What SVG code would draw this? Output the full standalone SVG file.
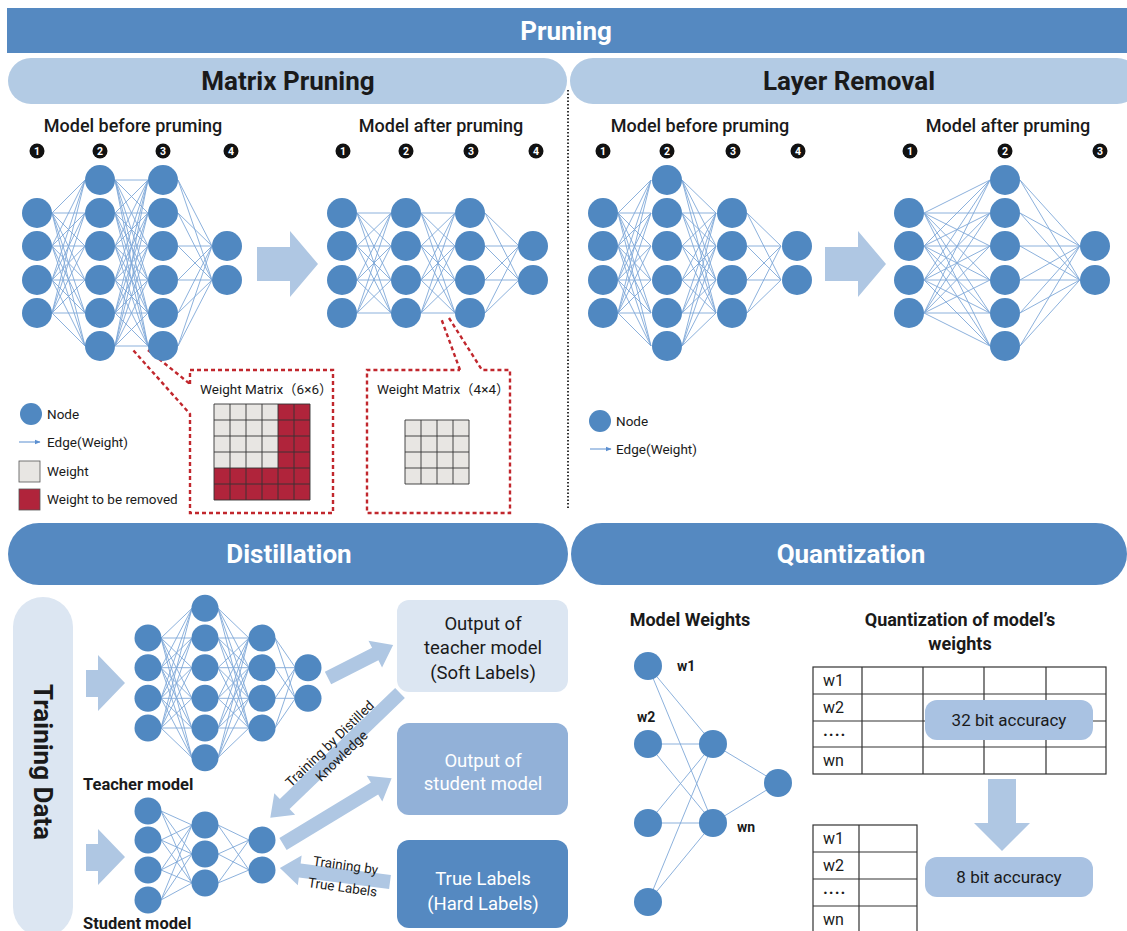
<svg xmlns="http://www.w3.org/2000/svg" xmlns:xlink="http://www.w3.org/1999/xlink" width="1127" height="931" viewBox="0 0 1127 931">
<style>
.t{font-family:Roboto,'Liberation Sans',sans-serif;fill:#1a1a1a}
.w{fill:#fff}
.h{font-size:26px;font-weight:700}
.m{font-size:18px;font-weight:500}
.s{font-size:13.5px}
.c{text-anchor:middle}
.n{fill:#5088c1}
.e{fill:none;stroke:#7fa8d8;stroke-width:0.9;vector-effect:non-scaling-stroke}
.rd{fill:none;stroke:#c1272d;stroke-width:2.4;stroke-dasharray:4 3}
.ar{fill:#afc7e3}
.bd{fill:#111}
.bt{font-family:Roboto,'Liberation Sans',sans-serif;fill:#fff;font-size:10.5px;font-weight:700;text-anchor:middle}
.gl{fill:none;stroke:#333;stroke-width:0.9}
.tb{fill:none;stroke:#333;stroke-width:1.2}
.bx{font-size:18.5px}
.q{font-size:16px}
</style>
<defs>
<marker id="ah" viewBox="0 0 10 10" refX="9" refY="5" markerWidth="6" markerHeight="6" orient="auto"><path d="M0,1L10,5L0,9Z" fill="#5b8fd0"/></marker>
<g id="c4" class="n"><circle cx="0" cy="213" r="15"/><circle cx="0" cy="246" r="15"/><circle cx="0" cy="280" r="15"/><circle cx="0" cy="313" r="15"/></g>
<g id="c6" class="n"><circle cx="0" cy="180" r="15"/><circle cx="0" cy="213" r="15"/><circle cx="0" cy="246" r="15"/><circle cx="0" cy="280" r="15"/><circle cx="0" cy="313" r="15"/><circle cx="0" cy="346" r="15"/></g>
<g id="c2" class="n"><circle cx="0" cy="246" r="15"/><circle cx="0" cy="280" r="15"/></g>
<path id="b46" class="e" d="M0,213L33,180M0,213L33,213M0,213L33,246M0,213L33,280M0,213L33,313M0,213L33,346M0,246L33,180M0,246L33,213M0,246L33,246M0,246L33,280M0,246L33,313M0,246L33,346M0,280L33,180M0,280L33,213M0,280L33,246M0,280L33,280M0,280L33,313M0,280L33,346M0,313L33,180M0,313L33,213M0,313L33,246M0,313L33,280M0,313L33,313M0,313L33,346"/>
<path id="b66" class="e" d="M0,180L33,180M0,180L33,213M0,180L33,246M0,180L33,280M0,180L33,313M0,180L33,346M0,213L33,180M0,213L33,213M0,213L33,246M0,213L33,280M0,213L33,313M0,213L33,346M0,246L33,180M0,246L33,213M0,246L33,246M0,246L33,280M0,246L33,313M0,246L33,346M0,280L33,180M0,280L33,213M0,280L33,246M0,280L33,280M0,280L33,313M0,280L33,346M0,313L33,180M0,313L33,213M0,313L33,246M0,313L33,280M0,313L33,313M0,313L33,346M0,346L33,180M0,346L33,213M0,346L33,246M0,346L33,280M0,346L33,313M0,346L33,346"/>
<path id="b64" class="e" d="M0,180L34,213M0,180L34,246M0,180L34,280M0,180L34,313M0,213L34,213M0,213L34,246M0,213L34,280M0,213L34,313M0,246L34,213M0,246L34,246M0,246L34,280M0,246L34,313M0,280L34,213M0,280L34,246M0,280L34,280M0,280L34,313M0,313L34,213M0,313L34,246M0,313L34,280M0,313L34,313M0,346L34,213M0,346L34,246M0,346L34,280M0,346L34,313"/>
<path id="b62" class="e" d="M0,180L34,246M0,180L34,280M0,213L34,246M0,213L34,280M0,246L34,246M0,246L34,280M0,280L34,246M0,280L34,280M0,313L34,246M0,313L34,280M0,346L34,246M0,346L34,280"/>
<path id="b44" class="e" d="M0,213L34,213M0,213L34,246M0,213L34,280M0,213L34,313M0,246L34,213M0,246L34,246M0,246L34,280M0,246L34,313M0,280L34,213M0,280L34,246M0,280L34,280M0,280L34,313M0,313L34,213M0,313L34,246M0,313L34,280M0,313L34,313"/>
<path id="b42" class="e" d="M0,213L34,246M0,213L34,280M0,246L34,246M0,246L34,280M0,280L34,246M0,280L34,280M0,313L34,246M0,313L34,280"/>
</defs>

<rect width="1127" height="931" fill="#fff"/>

<!-- headers -->
<g id="hdr-pruning"><rect x="7" y="8" width="1120" height="45" fill="#5589c1"/><text class="t w h c" x="566" y="40">Pruning</text></g>
<g id="hdr-matrix"><rect x="8" y="58" width="559" height="46" rx="23" fill="#b3cbe4"/><text class="t h c" x="288" y="90">Matrix Pruning</text></g>
<g id="hdr-layer"><rect x="570" y="58" width="570" height="46" rx="23" fill="#b3cbe4"/><text class="t h c" x="849" y="90">Layer Removal</text></g>
<g id="hdr-distill"><rect x="8" y="523" width="560" height="62" rx="31" fill="#5589c1"/><text class="t w h c" x="289" y="563">Distillation</text></g>
<g id="hdr-quant"><rect x="571" y="523" width="556" height="62" rx="31" fill="#5589c1"/><text class="t w h c" x="851" y="563">Quantization</text></g>
<path d="M568,90V510" stroke="#333" stroke-width="2" stroke-dasharray="1.5 2" fill="none"/>

<!-- connectors -->
<g id="connectors">
<use xlink:href="#b46" x="52"/><use xlink:href="#b66" x="115"/><use xlink:href="#b62" x="178"/>
<use xlink:href="#b44" x="357"/><use xlink:href="#b44" x="421"/><use xlink:href="#b42" x="485"/>
<use xlink:href="#b46" x="618"/><use xlink:href="#b64" x="682"/><use xlink:href="#b42" x="747"/>
<use xlink:href="#b46" transform="translate(924,0) scale(2,1)"/><use xlink:href="#b62" transform="translate(1020,0) scale(1.76,1)"/>
<use xlink:href="#b46" transform="translate(161,683) scale(0.94,0.9) translate(0,-263)"/>
<use xlink:href="#b64" transform="translate(218,683) scale(0.91,0.9) translate(0,-263)"/>
<use xlink:href="#b42" transform="translate(275,683) scale(0.6,0.9) translate(0,-263)"/>
<path class="e" d="M161,811L192,825M161,811L192,854M161,811L192,883M161,840L192,825M161,840L192,854M161,840L192,883M161,870L192,825M161,870L192,854M161,870L192,883M161,900L192,825M161,900L192,854M161,900L192,883M218,825L249,840M218,825L249,870M218,854L249,840M218,854L249,870M218,883L249,840M218,883L249,870"/>
<path class="e" d="M648,666L713,744M648,666L713,823M648,744L713,744M648,744L713,823M648,823L713,744M648,823L713,823M648,902L713,744M648,902L713,823M713,744L778,783M713,823L778,783"/>
<!-- big arrows -->
<path class="ar" d="M257,247H290V231L318,264L290,297V281H257Z"/>
<path class="ar" d="M825,247H858V231L886,264L858,297V281H825Z"/>
<path class="ar" d="M86,670H98V655L125,683L98,711V697H86Z"/>
<path class="ar" d="M86,844H98V829L125,857L98,885V871H86Z"/>
<path class="ar" d="M988,779H1016V823H1030L1002,851L974,823H988Z"/>
<path class="ar" transform="translate(328,678) rotate(-26.9)" d="M0,-7H53V-15L73,0L53,15V7H0Z"/>
<path class="ar" transform="translate(400,693) rotate(136.1)" d="M0,-7H160V-15L180,0L160,15V7H0Z"/>
<path class="ar" transform="translate(283,844) rotate(-31.2)" d="M0,-7H107V-15L127,0L107,15V7H0Z"/>
<path class="ar" transform="translate(390,882) rotate(-172.7)" d="M0,-7H91V-15L111,0L91,15V7H0Z"/>
<!-- callouts -->
<path class="rd" d="M190,384V370H333V513H190V414L133,350M148,350L190,384"/>
<path class="rd" d="M460,370L441,318M449,318L482,370H510V513H367V370H460"/>
</g>

<!-- Matrix pruning: before -->
<g id="net-matrix-before">
<text class="t m c" x="133" y="132">Model before pruming</text>
<g><circle class="bd" cx="37" cy="151" r="7.5"/><text class="bt" x="37" y="154.8">1</text><circle class="bd" cx="100" cy="151" r="7.5"/><text class="bt" x="100" y="154.8">2</text><circle class="bd" cx="163" cy="151" r="7.5"/><text class="bt" x="163" y="154.8">3</text><circle class="bd" cx="231" cy="151" r="7.5"/><text class="bt" x="231" y="154.8">4</text></g>
<use xlink:href="#c4" x="37"/><use xlink:href="#c6" x="100"/><use xlink:href="#c6" x="163"/><use xlink:href="#c2" x="227"/>
</g>
<g id="net-matrix-after">
<text class="t m c" x="441" y="132">Model after pruming</text>
<g><circle class="bd" cx="343" cy="151" r="7.5"/><text class="bt" x="343" y="154.8">1</text><circle class="bd" cx="406" cy="151" r="7.5"/><text class="bt" x="406" y="154.8">2</text><circle class="bd" cx="471" cy="151" r="7.5"/><text class="bt" x="471" y="154.8">3</text><circle class="bd" cx="536" cy="151" r="7.5"/><text class="bt" x="536" y="154.8">4</text></g>
<use xlink:href="#c4" x="342"/><use xlink:href="#c4" x="406"/><use xlink:href="#c4" x="470"/><use xlink:href="#c2" x="533"/>
</g>
<g id="net-layer-before">
<text class="t m c" x="700" y="132">Model before pruming</text>
<g><circle class="bd" cx="603" cy="151" r="7.5"/><text class="bt" x="603" y="154.8">1</text><circle class="bd" cx="667" cy="151" r="7.5"/><text class="bt" x="667" y="154.8">2</text><circle class="bd" cx="733" cy="151" r="7.5"/><text class="bt" x="733" y="154.8">3</text><circle class="bd" cx="798" cy="151" r="7.5"/><text class="bt" x="798" y="154.8">4</text></g>
<use xlink:href="#c4" x="603"/><use xlink:href="#c6" x="667"/><use xlink:href="#c4" x="732"/><use xlink:href="#c2" x="797"/>
</g>
<g id="net-layer-after">
<text class="t m c" x="1008" y="132">Model after pruming</text>
<g><circle class="bd" cx="910" cy="151" r="7.5"/><text class="bt" x="910" y="154.8">1</text><circle class="bd" cx="1005" cy="151" r="7.5"/><text class="bt" x="1005" y="154.8">2</text><circle class="bd" cx="1100" cy="151" r="7.5"/><text class="bt" x="1100" y="154.8">3</text></g>
<use xlink:href="#c4" x="909"/><use xlink:href="#c6" x="1005"/><use xlink:href="#c2" x="1095"/>
</g>

<!-- weight matrices -->
<g id="matrix-6x6">
<text class="t" x="200" y="394" style="font-family:Roboto,'Noto Sans CJK SC',sans-serif;font-size:13.5px">Weight Matrix（6×6）</text>
<rect x="214" y="404" width="96" height="96" fill="#e8e6e3"/>
<rect x="278" y="404" width="32" height="96" fill="#b0243b"/>
<rect x="214" y="468" width="96" height="32" fill="#b0243b"/>
<path class="gl" d="M214,404V500M230,404V500M246,404V500M262,404V500M278,404V500M294,404V500M310,404V500M214,404H310M214,420H310M214,436H310M214,452H310M214,468H310M214,484H310M214,500H310"/>
</g>
<g id="matrix-4x4">
<text class="t" x="377" y="394" style="font-family:Roboto,'Noto Sans CJK SC',sans-serif;font-size:13.5px">Weight Matrix（4×4）</text>
<rect x="405" y="420" width="64" height="64" fill="#e8e6e3"/>
<path class="gl" d="M405,420V484M421,420V484M437,420V484M453,420V484M469,420V484M405,420H469M405,436H469M405,452H469M405,468H469M405,484H469"/>
</g>

<!-- legends -->
<g id="legend-left">
<circle class="n" cx="31" cy="414" r="11"/><text class="t s" x="47" y="419">Node</text>
<line x1="19" y1="442" x2="40" y2="442" stroke="#5b8fd0" stroke-width="1" marker-end="url(#ah)"/><text class="t s" x="47" y="447">Edge(Weight)</text>
<rect x="19" y="461" width="21" height="21" fill="#e8e6e3" stroke="#555" stroke-width="0.8"/><text class="t s" x="47" y="476">Weight</text>
<rect x="19" y="489" width="21" height="21" fill="#b0243b" stroke="#555" stroke-width="0.8"/><text class="t s" x="47" y="504">Weight to be removed</text>
</g>
<g id="legend-right">
<circle class="n" cx="600" cy="421" r="11"/><text class="t s" x="616" y="426">Node</text>
<line x1="590" y1="449" x2="611" y2="449" stroke="#5b8fd0" stroke-width="1" marker-end="url(#ah)"/><text class="t s" x="616" y="454">Edge(Weight)</text>
</g>

<!-- Distillation -->
<g id="training-data"><rect x="13" y="597" width="60" height="340" rx="30" fill="#dce6f2"/><text class="t c" transform="translate(43,762) rotate(90)" dominant-baseline="central" style="font-size:26px;font-weight:700">Training Data</text></g>
<g id="teacher-model" class="n">
<circle cx="148" cy="638" r="13.5"/><circle cx="148" cy="667.7" r="13.5"/><circle cx="148" cy="698.3" r="13.5"/><circle cx="148" cy="728" r="13.5"/>
<circle cx="205" cy="608.3" r="13.5"/><circle cx="205" cy="638" r="13.5"/><circle cx="205" cy="667.7" r="13.5"/><circle cx="205" cy="698.3" r="13.5"/><circle cx="205" cy="728" r="13.5"/><circle cx="205" cy="757.7" r="13.5"/>
<circle cx="262" cy="638" r="13.5"/><circle cx="262" cy="667.7" r="13.5"/><circle cx="262" cy="698.3" r="13.5"/><circle cx="262" cy="728" r="13.5"/>
<circle cx="308" cy="667.7" r="13.5"/><circle cx="308" cy="698.3" r="13.5"/>
</g>
<text class="t" x="83" y="790" style="font-size:16.5px;font-weight:700">Teacher model</text>
<g id="student-model" class="n">
<circle cx="148" cy="811" r="13.5"/><circle cx="148" cy="840" r="13.5"/><circle cx="148" cy="870" r="13.5"/><circle cx="148" cy="900" r="13.5"/>
<circle cx="205" cy="825" r="13.5"/><circle cx="205" cy="854" r="13.5"/><circle cx="205" cy="883" r="13.5"/>
<circle cx="262" cy="840" r="13.5"/><circle cx="262" cy="870" r="13.5"/>
</g>
<text class="t" x="83" y="929" style="font-size:16.5px;font-weight:700">Student model</text>
<g id="soft-labels"><rect x="397" y="600" width="171" height="92" rx="12" fill="#dce6f2"/>
<text class="t c bx" x="483" y="630">Output of</text><text class="t c bx" x="483" y="654">teacher model</text><text class="t c bx" x="483" y="679">(Soft Labels)</text></g>
<g id="student-output"><rect x="397" y="723" width="171" height="92" rx="12" fill="#92b1d8"/>
<text class="t w c bx" x="483" y="767">Output of</text><text class="t w c bx" x="483" y="790">student model</text></g>
<g id="hard-labels"><rect x="397" y="840" width="171" height="88" rx="12" fill="#5589c1"/>
<text class="t w c bx" x="483" y="885">True Labels</text><text class="t w c bx" x="483" y="910">(Hard Labels)</text></g>
<g transform="translate(333,747) rotate(-44)"><text class="t c" x="0" y="0" style="font-size:13.5px">Training by Distilled</text><text class="t c" x="0" y="17" style="font-size:13.5px">Knowledge</text></g>
<g transform="translate(345,870) rotate(8)"><text class="t c" x="0" y="0" style="font-size:13.5px">Training by</text><text class="t c" x="0" y="22" style="font-size:13.5px">True Labels</text></g>

<!-- Quantization -->
<text class="t c" x="690" y="626" style="font-size:18px;font-weight:700">Model Weights</text>
<g id="quant-net" class="n">
<circle cx="648" cy="666" r="14"/><circle cx="648" cy="744" r="14"/><circle cx="648" cy="823" r="14"/><circle cx="648" cy="902" r="14"/>
<circle cx="713" cy="744" r="14"/><circle cx="713" cy="823" r="14"/><circle cx="778" cy="783" r="14"/>
</g>
<text class="t" x="677" y="671" style="font-size:14px;font-weight:700">w1</text>
<text class="t" x="637" y="722" style="font-size:14px;font-weight:700">w2</text>
<text class="t" x="737" y="832" style="font-size:14px;font-weight:700">wn</text>
<text class="t c" x="960" y="626" style="font-size:18px;font-weight:700">Quantization of model’s</text>
<text class="t c" x="960" y="650" style="font-size:18px;font-weight:700">weights</text>
<g id="table-32">
<rect class="tb" x="813" y="667" width="293" height="107" fill="#fff"/>
<path class="tb" d="M813,694H1106M813,721H1106M813,747H1106M862,667V774M923,667V774M984,667V774M1046,667V774"/>
<text class="t q" x="823" y="686">w1</text><text class="t q" x="823" y="713">w2</text><text class="t q" x="823" y="740" style="font-weight:700;letter-spacing:1px">····</text><text class="t q" x="823" y="766">wn</text>
</g>
<g id="acc-32"><rect x="925" y="700" width="168" height="40" rx="12" fill="#a9c2e2"/><text class="t c" x="1009" y="726" style="font-size:17px">32 bit accuracy</text></g>
<g id="table-8">
<rect class="tb" x="813" y="825" width="104" height="112" fill="#fff"/>
<path class="tb" d="M813,852H917M813,879H917M813,906H917M859,825V937"/>
<text class="t q" x="823" y="844">w1</text><text class="t q" x="823" y="871">w2</text><text class="t q" x="823" y="898" style="font-weight:700;letter-spacing:1px">····</text><text class="t q" x="823" y="925">wn</text>
</g>
<g id="acc-8"><rect x="925" y="857" width="168" height="40" rx="12" fill="#a9c2e2"/><text class="t c" x="1009" y="883" style="font-size:17px">8 bit accuracy</text></g>
</svg>
